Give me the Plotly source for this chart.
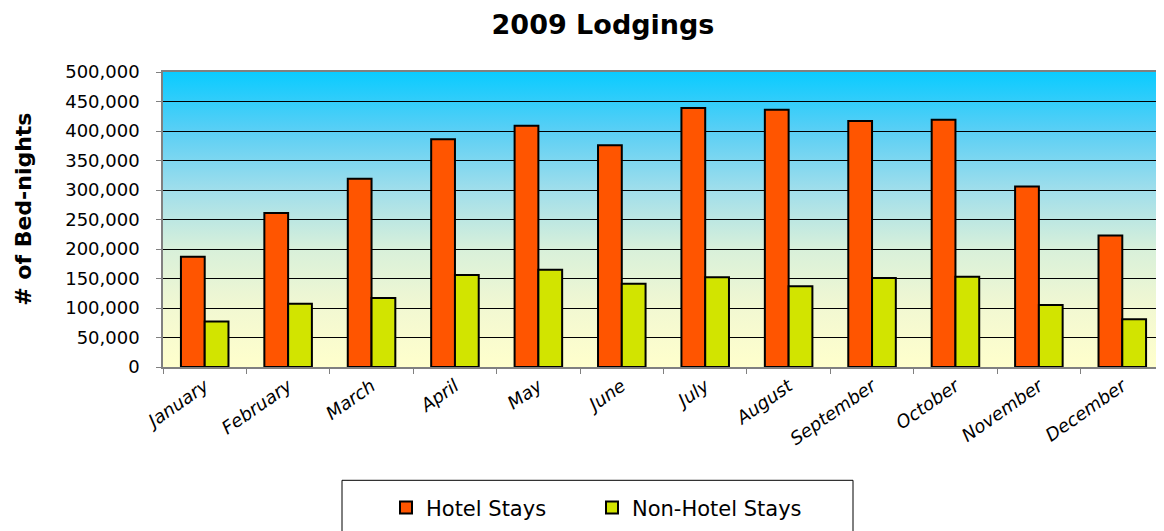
import base64
import plotly.graph_objects as go

months = ["January", "February", "March", "April", "May", "June", "July",
          "August", "September", "October", "November", "December"]
hotel_stays = [187000, 261000, 319000, 386000, 409000, 376000, 439000,
               436000, 417000, 419000, 306000, 223000]
non_hotel_stays = [77000, 107000, 117000, 156000, 165000, 141000, 152000,
                   137000, 151000, 153000, 105000, 81000]

FONT = "DejaVu Sans, Arial, sans-serif"

# the page body has an 8px margin, so the figure is drawn 8px in from the corner
OFF = 8
W, H = 1164 - OFF, 531 - OFF

# sky-to-cream background of the plot area, as an svg gradient image
svg = (
    '<svg xmlns="http://www.w3.org/2000/svg" width="10" height="100" '
    'viewBox="0 0 10 100" preserveAspectRatio="none">'
    '<defs><linearGradient id="g" x1="0" y1="0" x2="0" y2="1">'
    '<stop offset="0" stop-color="#0ACBFF"/>'
    '<stop offset="0.2" stop-color="#5ACFF5"/>'
    '<stop offset="0.4" stop-color="#A0DEEB"/>'
    '<stop offset="0.6" stop-color="#D8F0DA"/>'
    '<stop offset="0.8" stop-color="#F2F8D2"/>'
    '<stop offset="1" stop-color="#FFFFCC"/>'
    '</linearGradient></defs>'
    '<rect width="10" height="100" fill="url(#g)"/></svg>'
)
bg_src = "data:image/svg+xml;base64," + base64.b64encode(svg.encode()).decode()

fig = go.Figure()

fig.add_trace(go.Bar(
    x=months, y=hotel_stays, name="Hotel Stays", legend="legend",
    marker=dict(color="#FF5500", line=dict(color="black", width=2)),
))
fig.add_trace(go.Bar(
    x=months, y=non_hotel_stays, name="Non-Hotel Stays", legend="legend2",
    marker=dict(color="#D2E400", line=dict(color="black", width=2)),
))

# plot area in window pixels, converted to figure pixels
plot_top, plot_bottom, plot_left, plot_right = 72 - OFF, 367.5 - OFF, 163 - OFF, 1164 - OFF
plot_h = plot_bottom - plot_top
plot_w = plot_right - plot_left


def px(x):
    return (x - OFF - plot_left) / plot_w


def py(y):
    return (plot_bottom - (y - OFF)) / plot_h


legend_style = dict(
    orientation="h", xanchor="left", y=py(488), yanchor="top",
    font=dict(size=21), bgcolor="rgba(0,0,0,0)", borderwidth=0, itemwidth=30,
)

fig.update_layout(
    template="none",
    width=W, height=H,
    margin=dict(l=plot_left, r=W - plot_right, t=plot_top, b=H - plot_bottom,
                autoexpand=False),
    paper_bgcolor="white",
    plot_bgcolor="rgba(0,0,0,0)",
    font=dict(family=FONT, color="black", size=18),
    barmode="group",
    bargap=0.43,
    bargroupgap=0,
    title=dict(text="<b>2009 Lodgings</b>", x=(603 - OFF) / W, xanchor="center",
               y=1 - (25 - OFF) / H, yanchor="middle", font=dict(size=27)),
    xaxis=dict(
        automargin=False,
        tickangle=-35, tickfont=dict(size=18, style="italic"),
        ticks="outside", tickson="boundaries", ticklen=5, tickcolor="#808080",
        showline=True, linecolor="#808080", linewidth=1.5, mirror=True,
        showgrid=False,
    ),
    yaxis=dict(
        automargin=False,
        range=[0, 500000], dtick=50000, tickformat=",d",
        ticks="outside", ticklen=5, tickcolor="#808080", ticklabelstandoff=13,
        showline=True, linecolor="#808080", linewidth=1.5,
        showgrid=True, gridcolor="black", gridwidth=1,
        zeroline=False,
    ),
    annotations=[dict(
        text="<b># of Bed-nights</b>", textangle=-90, showarrow=False,
        xref="paper", yref="paper", x=px(24), y=py(210),
        xanchor="center", yanchor="middle", font=dict(size=22),
    )],
    showlegend=True,
    legend=dict(x=px(386), **legend_style),
    legend2=dict(x=px(592), **legend_style),
    images=[dict(
        source=bg_src, xref="x domain", yref="y domain",
        x=0, y=1, sizex=1, sizey=1, xanchor="left", yanchor="top",
        sizing="stretch", layer="below",
    )],
    shapes=[dict(
        type="rect", xref="paper", yref="paper",
        x0=px(342), x1=px(853), y0=py(545), y1=py(481),
        line=dict(color="black", width=1), fillcolor="rgba(0,0,0,0)",
    )],
)

fig.write_html("out.html")
